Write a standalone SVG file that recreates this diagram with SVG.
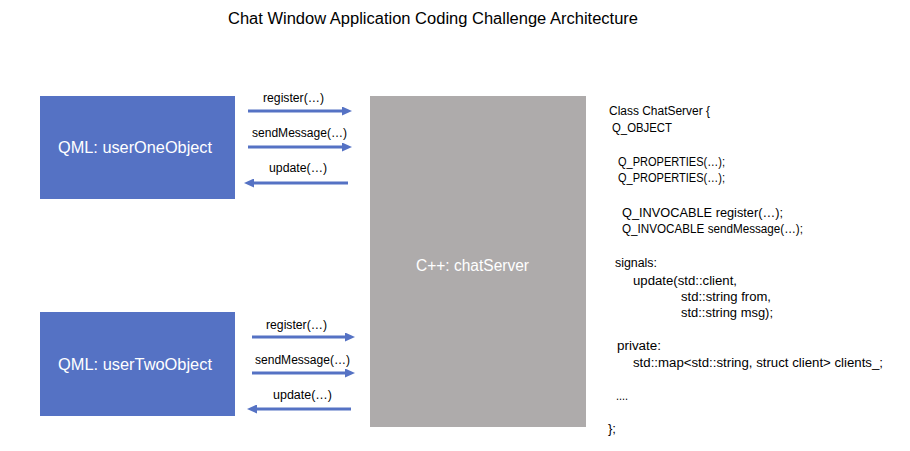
<svg xmlns="http://www.w3.org/2000/svg" width="910" height="451" viewBox="0 0 910 451">
  <style>
    text { font-family: "Liberation Sans", Arial, sans-serif; }
    .title { font-size: 16px; fill: #000; }
    .node { fill: #5572C4; }
    .server { fill: #AEABAB; }
    .ntext { font-size: 16px; fill: #fff; text-anchor: middle; }
    .lbl { font-size: 12.5px; fill: #000; }
    .code { font-size: 12.5px; fill: #000; }
    .conn { stroke: #5572C4; stroke-width: 3; fill: none; marker-end: url(#ah); }
  </style>
  <defs>
    <marker id="ah" markerUnits="userSpaceOnUse" markerWidth="10" markerHeight="9" viewBox="0 0 10 9" refX="2" refY="4.5" orient="auto">
      <path d="M0,0 L10,4.5 L0,9 z" fill="#5572C4"/>
    </marker>
  </defs>
  <rect width="910" height="451" fill="#fff"/>

  <text class="title" x="228" y="24" textLength="410" lengthAdjust="spacingAndGlyphs">Chat Window Application Coding Challenge Architecture</text>

  <g id="userOneObject">
    <rect class="node" x="40" y="96" width="195" height="103"/>
    <text class="ntext" x="135" y="153" textLength="154" lengthAdjust="spacingAndGlyphs">QML: userOneObject</text>
  </g>

  <g id="userTwoObject">
    <rect class="node" x="40" y="312" width="195" height="104"/>
    <text class="ntext" x="135" y="370" textLength="154" lengthAdjust="spacingAndGlyphs">QML: userTwoObject</text>
  </g>

  <g id="chatServer">
    <rect class="server" x="370" y="96" width="216" height="331"/>
    <text class="ntext" x="472.5" y="271" textLength="113" lengthAdjust="spacingAndGlyphs">C++: chatServer</text>
  </g>

  <g id="connectors">
    <path class="conn" d="M248,111 L344,111"/>
    <path class="conn" d="M248,147 L344,147"/>
    <path class="conn" d="M348,183 L252,183"/>
    <path class="conn" d="M252,337 L347,337"/>
    <path class="conn" d="M252,373 L347,373"/>
    <path class="conn" d="M351,409 L255,409"/>
    <text class="lbl" x="263" y="102" textLength="61" lengthAdjust="spacingAndGlyphs">register(…)</text>
    <text class="lbl" x="252" y="137" textLength="95" lengthAdjust="spacingAndGlyphs">sendMessage(…)</text>
    <text class="lbl" x="269" y="172" textLength="58" lengthAdjust="spacingAndGlyphs">update(…)</text>
    <text class="lbl" x="266" y="329" textLength="61" lengthAdjust="spacingAndGlyphs">register(…)</text>
    <text class="lbl" x="255" y="364" textLength="95" lengthAdjust="spacingAndGlyphs">sendMessage(…)</text>
    <text class="lbl" x="273" y="399" textLength="59" lengthAdjust="spacingAndGlyphs">update(…)</text>
  </g>

  <g id="classDefinition">
    <text class="code" x="609" y="115" textLength="101" lengthAdjust="spacingAndGlyphs">Class ChatServer {</text>
    <text class="code" x="612" y="132" textLength="60" lengthAdjust="spacingAndGlyphs">Q_OBJECT</text>
    <text class="code" x="618" y="166" textLength="107" lengthAdjust="spacingAndGlyphs">Q_PROPERTIES(…);</text>
    <text class="code" x="618" y="182" textLength="107" lengthAdjust="spacingAndGlyphs">Q_PROPERTIES(…);</text>
    <text class="code" x="622" y="217" textLength="161" lengthAdjust="spacingAndGlyphs">Q_INVOCABLE register(…);</text>
    <text class="code" x="622" y="233" textLength="181" lengthAdjust="spacingAndGlyphs">Q_INVOCABLE sendMessage(…);</text>
    <text class="code" x="615" y="267" textLength="42" lengthAdjust="spacingAndGlyphs">signals:</text>
    <text class="code" x="633" y="285" textLength="104" lengthAdjust="spacingAndGlyphs">update(std::client,</text>
    <text class="code" x="681" y="301" textLength="90" lengthAdjust="spacingAndGlyphs">std::string from,</text>
    <text class="code" x="681" y="317" textLength="92" lengthAdjust="spacingAndGlyphs">std::string msg);</text>
    <text class="code" x="617" y="350" textLength="44" lengthAdjust="spacingAndGlyphs">private:</text>
    <text class="code" x="633" y="367" textLength="250" lengthAdjust="spacingAndGlyphs">std::map&lt;std::string, struct client&gt; clients_;</text>
    <text class="code" x="616" y="400" textLength="12" lengthAdjust="spacingAndGlyphs">....</text>
    <text class="code" x="608" y="433" textLength="8" lengthAdjust="spacingAndGlyphs">};</text>
  </g>
</svg>
